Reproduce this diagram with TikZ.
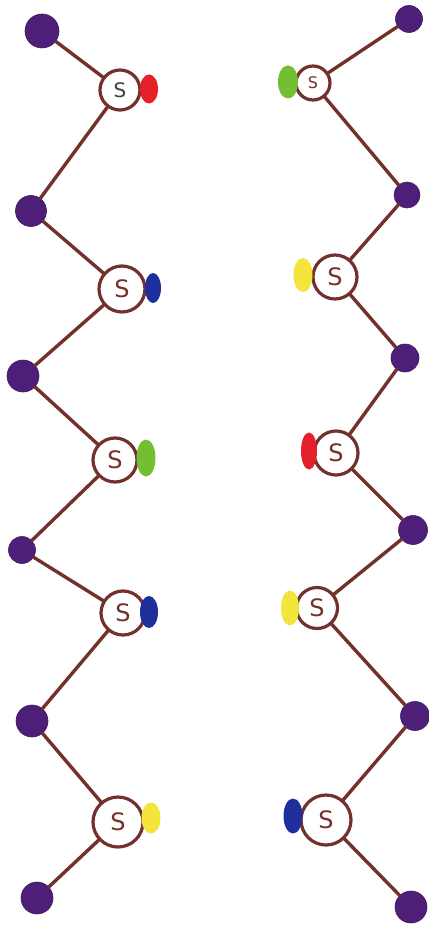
\documentclass[tikz,border=0pt]{standalone}
\usepackage{fontspec}
\setsansfont{DejaVu Sans}
\usetikzlibrary{shapes.geometric}
\definecolor{bond}{HTML}{74302C}
\definecolor{atomP}{HTML}{4E1F78}
\definecolor{tagRed}{HTML}{E4212B}
\definecolor{tagBlue}{HTML}{1E2F9C}
\definecolor{tagGreen}{HTML}{74BE34}
\definecolor{tagYellow}{HTML}{F3E53C}
\tikzset{
  atom/.style={circle, fill=atomP, draw=atomP!80!black, line width=0.6pt, inner sep=0pt, minimum size=#1},
  atom/.default=31pt,
  sulfur/.style={circle, draw=bond, fill=white, line width=3.2pt, inner sep=0pt, minimum size=#1,
    text=bond, font=\sffamily\fontsize{24}{24}\selectfont},
  sulfur/.default=44pt,
  tag/.style={ellipse, fill=#1, inner sep=0pt, minimum width=17pt, minimum height=30pt},
  link/.style={draw=bond, line width=3.4pt, line cap=round},
}
\begin{document}
\begin{tikzpicture}[x=1pt,y=-1pt]
\useasboundingbox (0,0) rectangle (428,928);
\fill[white] (0,0) rectangle (428,928);

% left chain: end groups
\node[atom=34pt] (p0) at (42,31) {};
\node[atom] (p1) at (31,211) {};
\node[atom=32pt] (p2) at (23,376) {};
\node[atom=27pt] (p3) at (22,550) {};
\node[atom=32pt] (p4) at (32,721) {};
\node[atom=32pt] (p5) at (37,898) {};

% left chain: sulfur centres
\node[sulfur=40pt, text=black!75, font=\sffamily\fontsize{20}{20}\selectfont] (s1) at (120,90) {S};
\node[sulfur=46pt] (s2) at (122,289) {S};
\node[sulfur] (s3) at (115,460) {S};
\node[sulfur] (s4) at (123,613) {S};
\node[sulfur=50pt] (s5) at (118,822) {S};

% left chain: coloured tags
\node[tag=tagRed, minimum width=18pt, minimum height=29pt] (r1) at (149,89) {};
\node[tag=tagBlue, minimum width=16pt, minimum height=30pt] (r2) at (153,288) {};
\node[tag=tagGreen, minimum width=19pt, minimum height=37pt] (r3) at (146,458) {};
\node[tag=tagBlue, minimum width=18pt, minimum height=32pt] (r4) at (149,612) {};
\node[tag=tagYellow, minimum width=19pt, minimum height=31pt] (r5) at (151,818) {};

% right chain: end groups
\node[atom=27pt] (q0) at (409,19) {};
\node[atom=26pt] (q1) at (407,195) {};
\node[atom=28pt] (q2) at (405,358) {};
\node[atom=29pt] (q3) at (413,530) {};
\node[atom=29pt] (q4) at (415,716) {};
\node[atom=32pt] (q5) at (411,907) {};

% right chain: sulfur centres
\node[sulfur=34pt, font=\sffamily\fontsize{16}{16}\selectfont] (t1) at (313,83) {S};
\node[sulfur] (t2) at (335,277) {S};
\node[sulfur] (t3) at (336,453) {S};
\node[sulfur=41pt] (t4) at (317,608) {S};
\node[sulfur=50pt] (t5) at (326,820) {S};

% right chain: coloured tags
\node[tag=tagGreen, minimum width=20pt, minimum height=33pt] (g1) at (288,82) {};
\node[tag=tagYellow, minimum width=19pt, minimum height=34pt] (g2) at (303,275) {};
\node[tag=tagRed, minimum width=16pt, minimum height=37pt] (g3) at (309,451) {};
\node[tag=tagYellow, minimum width=18pt, minimum height=35pt] (g4) at (290,608) {};
\node[tag=tagBlue, minimum width=19pt, minimum height=35pt] (g5) at (293,816) {};

% bonds
\draw[link] (p0) -- (s1); \draw[link] (s1) -- (p1);
\draw[link] (p1) -- (s2); \draw[link] (s2) -- (p2);
\draw[link] (p2) -- (s3); \draw[link] (s3) -- (p3);
\draw[link] (p3) -- (s4); \draw[link] (s4) -- (p4);
\draw[link] (p4) -- (s5); \draw[link] (s5) -- (p5);
\draw[link] (q0) -- (t1); \draw[link] (t1) -- (q1);
\draw[link] (q1) -- (t2); \draw[link] (t2) -- (q2);
\draw[link] (q2) -- (t3); \draw[link] (t3) -- (q3);
\draw[link] (q3) -- (t4); \draw[link] (t4) -- (q4);
\draw[link] (q4) -- (t5); \draw[link] (t5) -- (q5);
\end{tikzpicture}
\end{document}
